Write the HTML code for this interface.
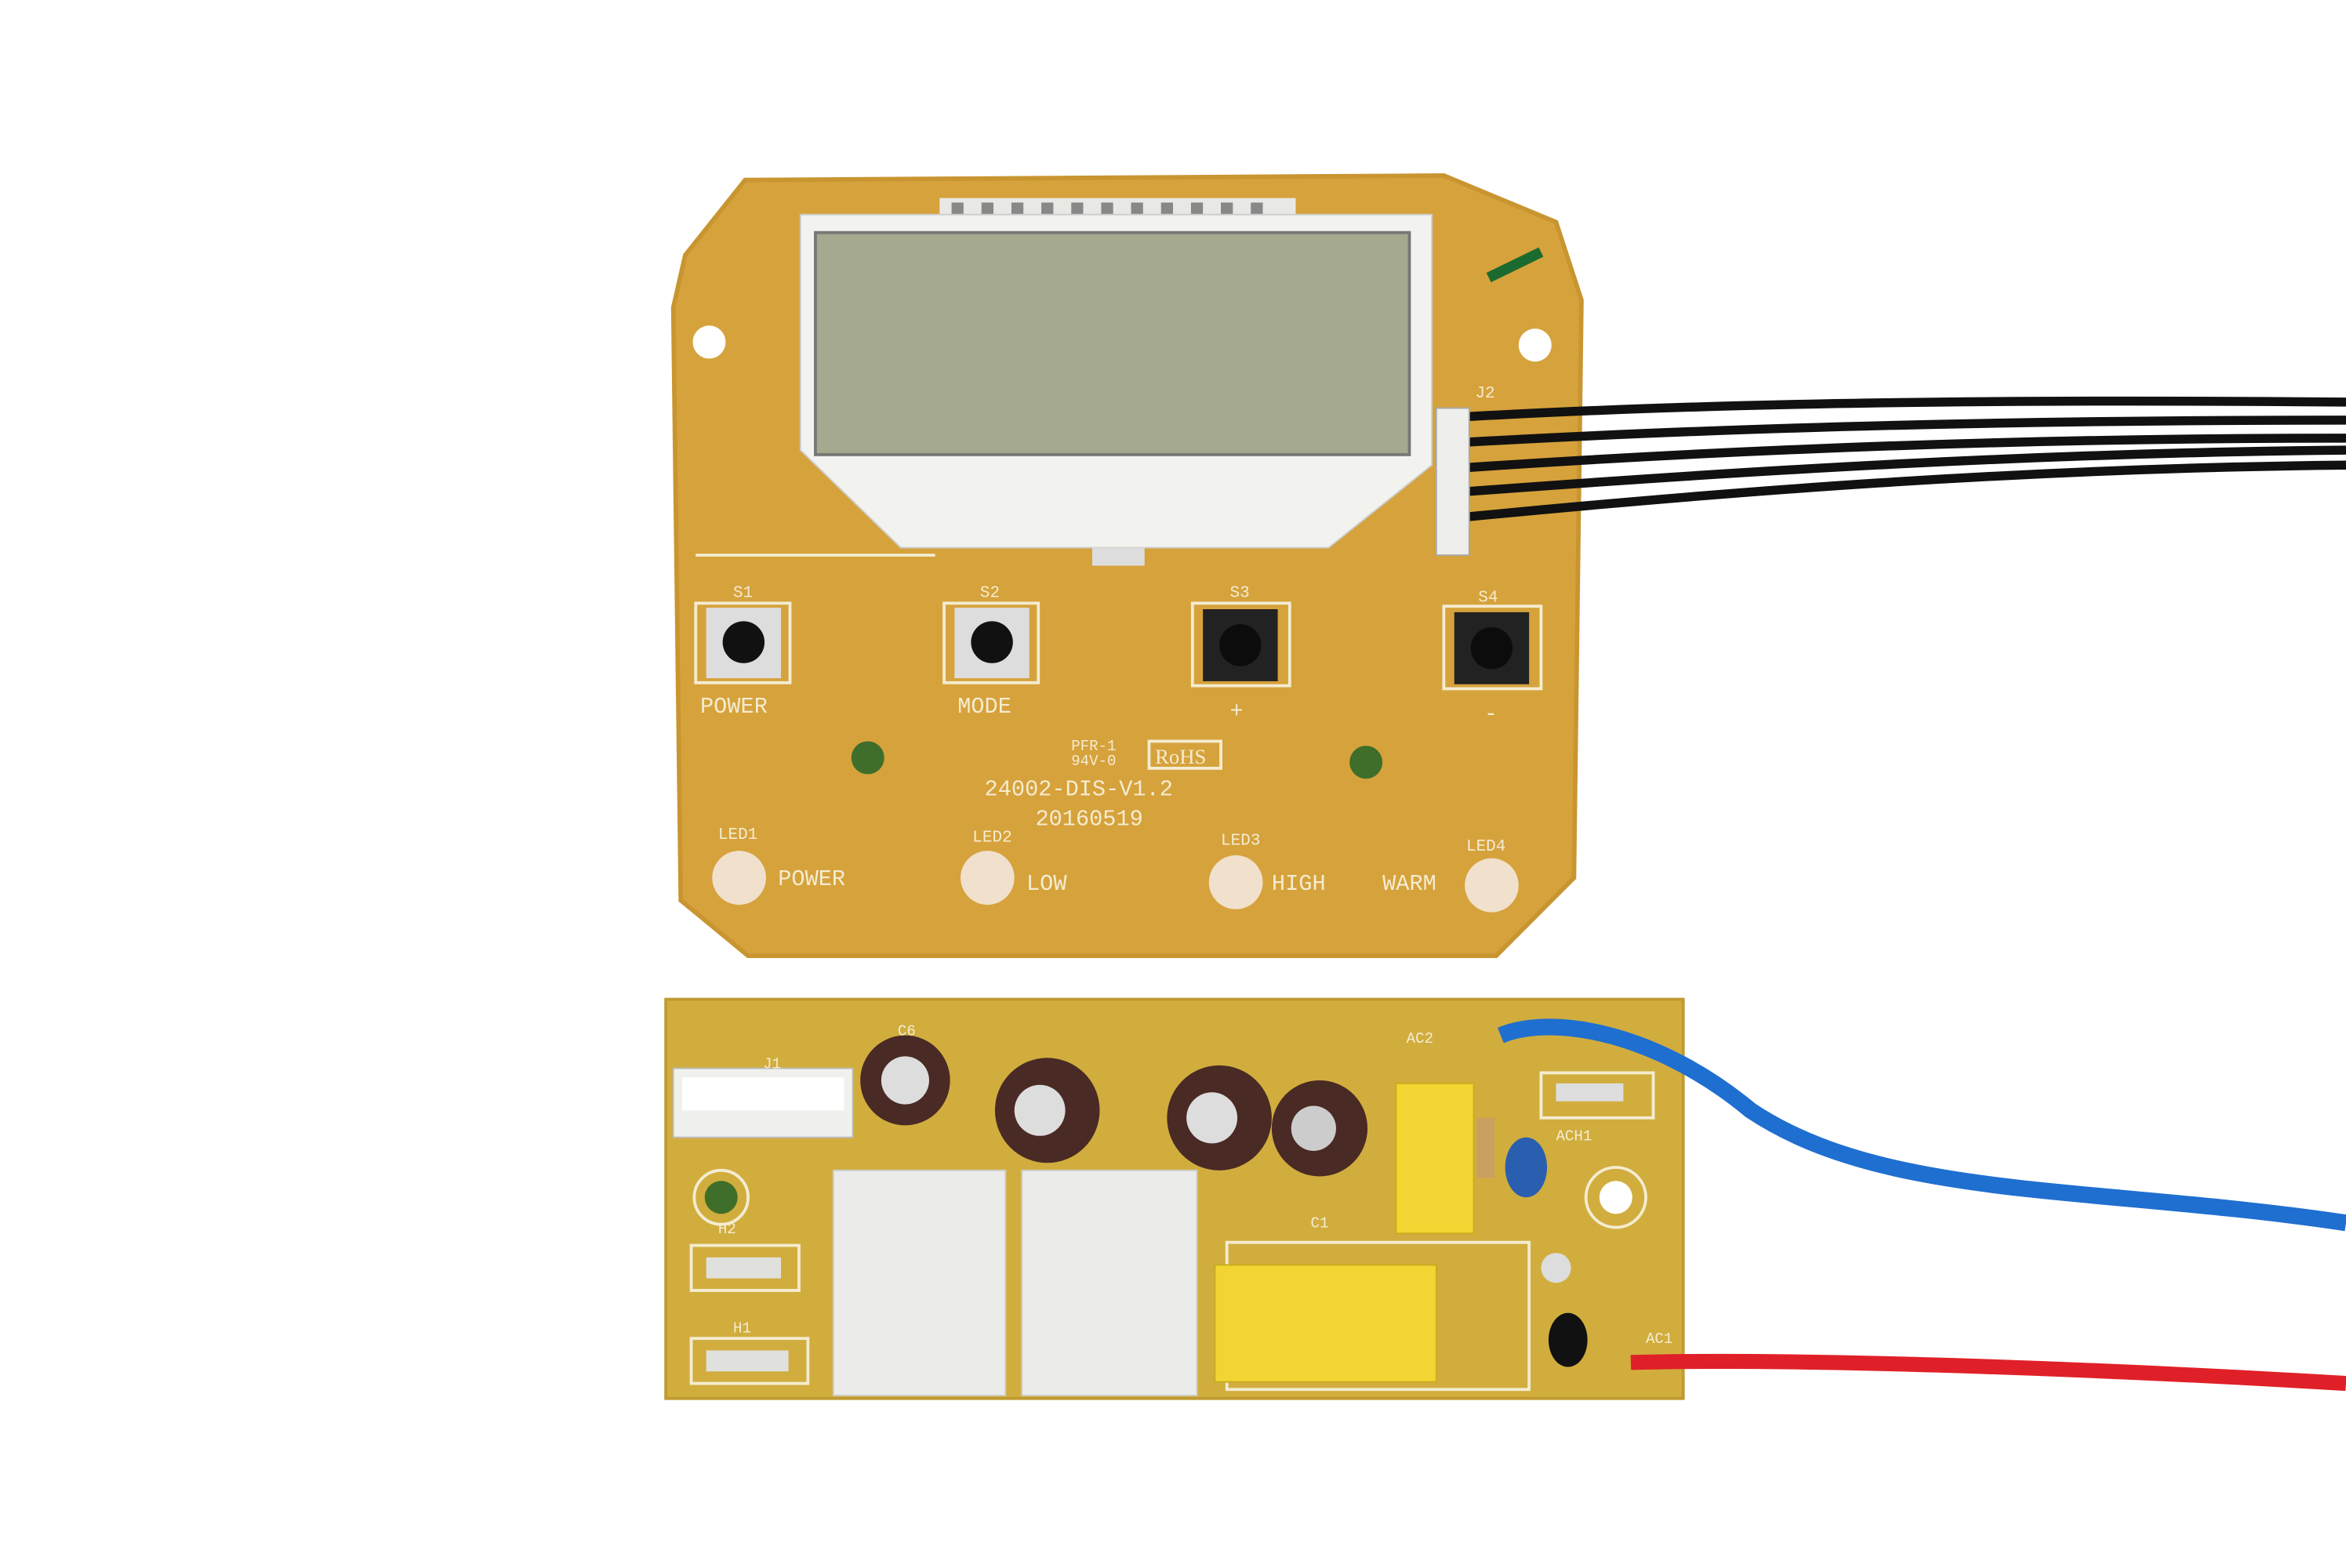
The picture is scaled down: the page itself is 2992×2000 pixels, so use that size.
<!DOCTYPE html>
<html><head><meta charset="utf-8"><style>
html,body{margin:0;padding:0;background:#fff;}
svg{display:block;width:2992px;height:2000px;}
text{font-family:"Liberation Mono",monospace;fill:#f4ecd0;}
</style></head><body>
<svg viewBox="0 0 1568 1045" preserveAspectRatio="none" xmlns="http://www.w3.org/2000/svg">
<rect width="1568" height="1045" fill="#ffffff"/>
<!-- top board -->
<polygon points="458,170 498,120 965,117 1040,148 1057,200 1052,585 1000,637 500,637 455,600 450,205" fill="#d6a23c" stroke="#c99530" stroke-width="3"/>
<!-- black wires -->
<g stroke="#111" stroke-width="6" fill="none">
<path d="M975,278 C1150,268 1350,266 1568,268"/>
<path d="M975,295 C1150,285 1350,280 1568,280"/>
<path d="M975,312 C1150,300 1350,292 1568,292"/>
<path d="M975,328 C1150,315 1350,302 1568,300"/>
<path d="M975,345 C1150,328 1350,312 1568,310"/>
</g>
<rect x="960" y="272" width="22" height="98" fill="#eeeeea" stroke="#aaa"/>
<!-- LCD -->
<rect x="628" y="132" width="238" height="16" fill="#e8e8e4"/>
<g fill="#888">
<rect x="636" y="135" width="8" height="10"/><rect x="656" y="135" width="8" height="10"/><rect x="676" y="135" width="8" height="10"/><rect x="696" y="135" width="8" height="10"/><rect x="716" y="135" width="8" height="10"/><rect x="736" y="135" width="8" height="10"/><rect x="756" y="135" width="8" height="10"/><rect x="776" y="135" width="8" height="10"/><rect x="796" y="135" width="8" height="10"/><rect x="816" y="135" width="8" height="10"/><rect x="836" y="135" width="8" height="10"/>
</g>
<polygon points="535,143 957,143 957,310 888,365 602,365 535,300" fill="#f2f2ef" stroke="#ccc"/>
<rect x="545" y="155" width="397" height="148" fill="#a5a98d" stroke="#777" stroke-width="2"/>
<rect x="730" y="365" width="35" height="12" fill="#ddd"/>
<!-- buttons -->
<g>
<rect x="465" y="402" width="63" height="53" fill="none" stroke="#f4ecd0" stroke-width="2"/>
<rect x="472" y="405" width="50" height="47" fill="#ddd"/><circle cx="497" cy="428" r="14" fill="#111"/>
<rect x="631" y="402" width="63" height="53" fill="none" stroke="#f4ecd0" stroke-width="2"/>
<rect x="638" y="405" width="50" height="47" fill="#ddd"/><circle cx="663" cy="428" r="14" fill="#111"/>
<rect x="797" y="402" width="65" height="55" fill="none" stroke="#f4ecd0" stroke-width="2"/>
<rect x="804" y="406" width="50" height="48" fill="#222"/><circle cx="829" cy="430" r="14" fill="#0c0c0c"/>
<rect x="965" y="404" width="65" height="55" fill="none" stroke="#f4ecd0" stroke-width="2"/>
<rect x="972" y="408" width="50" height="48" fill="#222"/><circle cx="997" cy="432" r="14" fill="#0c0c0c"/>
</g>
<g font-size="15">
<text x="468" y="475">POWER</text><text x="640" y="475">MODE</text><text x="822" y="478">+</text><text x="992" y="480">-</text>
<text x="490" y="398" font-size="11">S1</text><text x="655" y="398" font-size="11">S2</text><text x="822" y="398" font-size="11">S3</text><text x="988" y="401" font-size="11">S4</text>
<text x="658" y="530">24002-DIS-V1.2</text><text x="692" y="550">20160519</text>
<text x="716" y="500" font-size="10">PFR-1</text><text x="716" y="510" font-size="10">94V-0</text>
<text x="520" y="590">POWER</text><text x="686" y="593">LOW</text><text x="850" y="593">HIGH</text><text x="924" y="593">WARM</text>
<text x="480" y="559" font-size="11">LED1</text><text x="650" y="561" font-size="11">LED2</text><text x="816" y="563" font-size="11">LED3</text><text x="980" y="567" font-size="11">LED4</text>
<text x="986" y="265" font-size="11">J2</text>
</g>
<rect x="768" y="494" width="48" height="18" fill="none" stroke="#f4ecd0" stroke-width="2"/>
<text x="772" y="509" font-size="14" style="font-family:'Liberation Serif',serif">RoHS</text>
<line x1="465" y1="370" x2="625" y2="370" stroke="#f4ecd0" stroke-width="2"/>
<g fill="#fff">
<circle cx="474" cy="228" r="11"/><circle cx="1026" cy="230" r="11"/>
</g>
<g fill="#3e6e2a"><circle cx="580" cy="505" r="11"/><circle cx="913" cy="508" r="11"/></g>
<g fill="#f0e0cc"><circle cx="494" cy="585" r="18"/><circle cx="660" cy="585" r="18"/><circle cx="826" cy="588" r="18"/><circle cx="997" cy="590" r="18"/></g>
<path d="M995,185 L1030,168" stroke="#1b6b30" stroke-width="7"/>
<!-- bottom board -->
<rect x="445" y="666" width="680" height="266" fill="#d1ad3e" stroke="#c09a30" stroke-width="2"/>
<rect x="450" y="712" width="120" height="46" fill="#f0f0ec" stroke="#bbb"/>
<rect x="456" y="718" width="108" height="22" fill="#fff"/>
<g fill="#f4ecd0"><circle cx="482" cy="798" r="18" fill="none" stroke="#f4ecd0" stroke-width="2"/><circle cx="482" cy="798" r="11" fill="#3e6e2a"/>
<circle cx="1080" cy="798" r="20" fill="none" stroke="#f4ecd0" stroke-width="2"/><circle cx="1080" cy="798" r="11" fill="#fff"/></g>
<rect x="462" y="830" width="72" height="30" fill="none" stroke="#f4ecd0" stroke-width="2"/><rect x="472" y="838" width="50" height="14" fill="#e0e0dc"/>
<rect x="462" y="892" width="78" height="30" fill="none" stroke="#f4ecd0" stroke-width="2"/><rect x="472" y="900" width="55" height="14" fill="#e0e0dc"/>
<!-- caps -->
<g>
<circle cx="605" cy="720" r="30" fill="#4a2a24"/><circle cx="605" cy="720" r="16" fill="#ddd"/>
<circle cx="700" cy="740" r="35" fill="#4a2a24"/><circle cx="695" cy="740" r="17" fill="#ddd"/>
<circle cx="815" cy="745" r="35" fill="#4a2a24"/><circle cx="810" cy="745" r="17" fill="#ddd"/>
<circle cx="882" cy="752" r="32" fill="#4a2a24"/><circle cx="878" cy="752" r="15" fill="#ccc"/>
</g>
<rect x="557" y="780" width="115" height="150" fill="#ebebea" stroke="#ccc"/>
<rect x="683" y="780" width="117" height="150" fill="#ebebea" stroke="#ccc"/>
<rect x="820" y="828" width="202" height="98" fill="none" stroke="#f4ecd0" stroke-width="2"/>
<rect x="812" y="843" width="148" height="78" fill="#f2d532" stroke="#c9ad1e"/>
<rect x="933" y="722" width="52" height="100" fill="#f2d532" stroke="#c9ad1e"/>
<rect x="987" y="745" width="12" height="40" fill="#c9a060"/>
<ellipse cx="1020" cy="778" rx="14" ry="20" fill="#2a5fb0"/>
<rect x="1030" y="715" width="75" height="30" fill="none" stroke="#f4ecd0" stroke-width="2"/><rect x="1040" y="722" width="45" height="12" fill="#ddd"/>
<circle cx="1040" cy="845" r="10" fill="#ddd"/>
<ellipse cx="1048" cy="893" rx="13" ry="18" fill="#111"/>
<g font-size="10"><text x="940" y="695">AC2</text><text x="1040" y="760">ACH1</text><text x="1100" y="895">AC1</text><text x="600" y="690">C6</text><text x="510" y="712">J1</text><text x="480" y="822">H2</text><text x="490" y="888">H1</text><text x="876" y="818">C1</text></g>
<!-- blue wire -->
<path d="M1003,690 C1040,675 1110,690 1170,740 C1260,800 1400,790 1568,815" stroke="#1f6fd0" stroke-width="11" fill="none"/>
<!-- red wire -->
<path d="M1090,908 C1200,905 1400,912 1568,922" stroke="#e02028" stroke-width="10" fill="none"/>
</svg>
</body></html>
